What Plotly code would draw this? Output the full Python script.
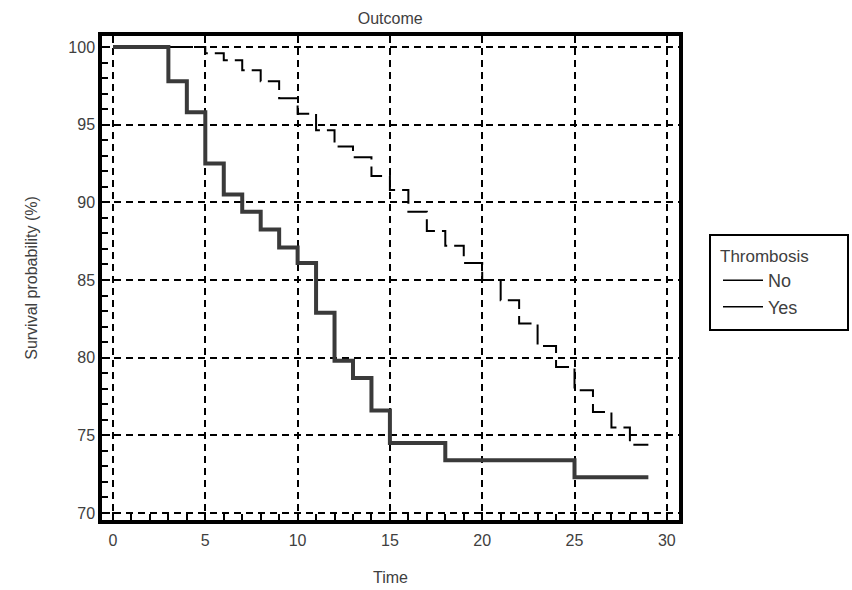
import plotly.graph_objects as go

# Kaplan-Meier style survival data
time_no = [0, 5, 6, 7, 8, 9, 10, 11, 12, 13, 14, 15, 16, 17, 18, 19, 20, 21, 22, 23, 24, 25, 26, 27, 28, 29]
surv_no = [100, 99.6, 99.15, 98.5, 97.8, 96.7, 95.7, 94.65, 93.6, 92.9, 91.7, 90.8, 89.4, 88.15, 87.2,
           86.1, 85.0, 83.7, 82.2, 80.75, 79.4, 77.9, 76.5, 75.5, 74.4, 74.4]

time_yes = [0, 3, 4, 5, 6, 7, 8, 9, 10, 11, 12, 13, 14, 15, 18, 25, 29]
surv_yes = [100, 97.8, 95.8, 92.5, 90.5, 89.4, 88.25, 87.1, 86.1, 82.9, 79.8, 78.7, 76.6, 74.5, 73.4, 72.3, 72.3]

x_ticks = [0, 5, 10, 15, 20, 25, 30]
y_ticks = [70, 75, 80, 85, 90, 95, 100]

legend_title = "Thrombosis"
group_names = ["No", "Yes"]

FONT = "Liberation Sans, Arial, sans-serif"
TXT = "#404040"

fig = go.Figure()

fig.add_trace(go.Scatter(
    x=time_no, y=surv_no, mode="lines", line=dict(shape="hv", color="black", width=2, dash="20px,7px"),
    showlegend=False, name=group_names[0]))
fig.add_trace(go.Scatter(
    x=time_yes, y=surv_yes, mode="lines", line=dict(shape="hv", color="#3a3a3a", width=4),
    showlegend=False, name=group_names[1]))

# legend entries (thin lines, as in the reference legend)
for nm in group_names:
    fig.add_trace(go.Scatter(x=[None], y=[None], mode="lines", name=nm,
                             line=dict(color="black", width=1.5)))

axis_common = dict(
    showline=True, mirror=True, linecolor="black", linewidth=3.5,
    showgrid=True, gridcolor="black", gridwidth=2, griddash="7px,5px",
    zeroline=False, ticks="inside", ticklen=8, tickwidth=2, tickcolor="black",
    tickfont=dict(family=FONT, size=16, color=TXT), automargin=False,
    minor=dict(dtick=1, ticks="inside", ticklen=6, tickwidth=2, tickcolor="black", showgrid=False),
)

fig.update_layout(
    width=852, height=590,
    margin=dict(l=102, r=173, t=36, b=70),
    paper_bgcolor="white", plot_bgcolor="white",
    title=dict(text="Outcome", x=0.458, xanchor="center", y=0.968, yanchor="middle",
               font=dict(family=FONT, size=16, color=TXT)),
    xaxis=dict(range=[-0.596, 30.66], tickvals=x_ticks, ticktext=[str(v) for v in x_ticks],
               title=dict(text="Time", font=dict(family=FONT, size=16, color=TXT), standoff=25),
               ticklabelstandoff=3, **axis_common),
    yaxis=dict(range=[69.55, 100.71], tickvals=y_ticks, ticktext=[str(v) for v in y_ticks],
               title=dict(text="Survival probability (%)", font=dict(family=FONT, size=16, color=TXT), standoff=28),
               **axis_common),
    legend=dict(title=dict(text=legend_title, font=dict(family=FONT, size=17, color=TXT)),
                x=(718 - 102) / 577, xanchor="left", y=(520 - 240) / 484, yanchor="top",
                borderwidth=0, bgcolor="rgba(0,0,0,0)", itemwidth=40,
                font=dict(family=FONT, size=18, color=TXT), tracegroupgap=0),
    shapes=[dict(type="rect", xref="paper", yref="paper",
                 x0=(710 - 102) / 577, x1=(848 - 102) / 577,
                 y0=(520 - 330) / 484, y1=(520 - 235) / 484,
                 line=dict(color="black", width=2), fillcolor="rgba(0,0,0,0)")],
)

fig.write_html("out.html")
